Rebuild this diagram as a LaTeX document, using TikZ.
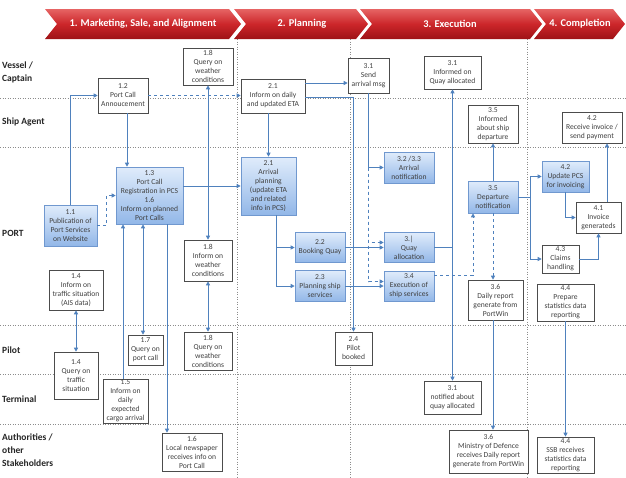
\documentclass[tikz,border=0pt]{standalone}
\usepackage{fontspec}
\setmainfont{Carlito}
\usepackage{xcolor}
\usepackage{tikz}
\usetikzlibrary{arrows.meta, positioning, calc}
\definecolor{hdred}{RGB}{204,38,42}
\definecolor{hdlight}{RGB}{230,100,100}
\definecolor{hddark}{RGB}{158,18,22}
\definecolor{flowblue}{RGB}{79,129,189}
\definecolor{boxtop}{RGB}{224,236,251}
\definecolor{boxbot}{RGB}{146,183,232}
\definecolor{boxline}{RGB}{112,152,207}
\definecolor{txtgray}{RGB}{64,64,64}

\tikzset{
    wbox/.style={draw=black!70, fill=white, line width=0.6pt, align=center,
        inner sep=0.5pt, text=txtgray, font=\fontsize{7.6}{9}\selectfont},
    bbox/.style={wbox, draw=boxline, top color=boxtop, bottom color=boxbot},
    flow/.style={draw=flowblue, line width=0.9pt, -{Triangle[width=4pt,length=4pt]}},
    flowboth/.style={flow, {Triangle[width=4pt,length=4pt]}-{Triangle[width=4pt,length=4pt]}},
    flowd/.style={flow, dashed},
    wire/.style={draw=flowblue, line width=0.9pt},
    lane/.style={draw=black!45, dotted, line width=0.5pt},
    lanelabel/.style={anchor=west, align=left, inner sep=1pt, text=black!85,
        font=\fontsize{9.5}{13}\selectfont\bfseries},
    phase/.style={top color=hdlight, bottom color=hddark, middle color=hdred},
    phaselabel/.style={text=white, font=\fontsize{10.4}{12}\selectfont\bfseries}
}

\begin{document}
\begin{tikzpicture}[x=1pt, y=-1pt]
\useasboundingbox[fill=white] (0,0) rectangle (626,477);

% lanes and phases
\foreach \y in {98,147,325,374,424}
    \draw[lane] (0,\y) -- (626,\y);
\foreach \x in {237,350,527}
    \draw[lane] (\x,39) -- (\x,477);

% phase headers
\path[phase] (45,9) -- (229,9) -- (241,24) -- (229,39) -- (45,39) -- (57,24) -- cycle;
\path[phase] (234,9) -- (356,9) -- (368,24) -- (356,39) -- (234,39) -- (246,24) -- cycle;
\path[phase] (360,9) -- (530,9) -- (542,24) -- (530,39) -- (360,39) -- (372,24) -- cycle;
\path[phase] (534,9) -- (613,9) -- (625,24) -- (613,39) -- (534,39) -- (546,24) -- cycle;
\node[phaselabel] (ph1) at (143,24) {1. Marketing, Sale, and Alignment};
\node[phaselabel] (ph2) at (302,24) {2. Planning};
\node[phaselabel] (ph3) at (450,24) {3. Execution};
\node[phaselabel] (ph4) at (580,24) {4. Completion};

% lane names
\node[lanelabel] (lvessel) at (1,72) {Vessel /\\Captain};
\node[lanelabel] (lagent) at (1,122) {Ship Agent};
\node[lanelabel] (lport) at (1,233) {PORT};
\node[lanelabel] (lpilot) at (1,350) {Pilot};
\node[lanelabel] (lterm) at (1,399) {Terminal};
\node[lanelabel] (lauth) at (1,450) {Authorities /\\other\\Stakeholders};

% 1. marketing, sale and alignment
\node[wbox, minimum width=50, minimum height=35] (n12) at (123,95.5) {1.2\\Port Call\\Annoucement};
\node[wbox, minimum width=50, minimum height=37] (n18a) at (208,66.5) {1.8\\Query on\\weather\\conditions};
\node[bbox, minimum width=53, minimum height=41] (n11) at (70.5,225.5) {1.1\\Publication of\\Port Services\\on Website};
\node[bbox, minimum width=67, minimum height=57] (n13) at (149.5,195.5)
    {1.3\\Port Call\\Registration in PCS\\1.6\\Inform on planned\\Port Calls};
\node[wbox, minimum width=48, minimum height=41] (n18b) at (208,260.5) {1.8\\Inform on\\weather\\conditions};
\node[wbox, minimum width=54, minimum height=40] (n14a) at (76,290) {1.4\\Inform on\\traffic situation\\(AIS data)};
\node[wbox, minimum width=35, minimum height=30] (n17) at (145.5,350) {1.7\\Query on\\port call};
\node[wbox, minimum width=48, minimum height=38] (n18c) at (208,351) {1.8\\Query on\\weather\\conditions};
\node[wbox, minimum width=44, minimum height=47] (n14b) at (76,375.5) {1.4\\Query on\\traffic\\situation};
\node[wbox, minimum width=45, minimum height=44] (n15) at (125.5,401) {1.5\\Inform on\\daily\\expected\\cargo arrival};
\node[wbox, minimum width=60, minimum height=38] (n16) at (192,452) {1.6\\Local newspaper\\receives info on\\Port Call};

% 2. planning
\node[wbox, minimum width=64, minimum height=34] (n21a) at (273,96) {2.1\\Inform on daily\\and updated ETA};
\node[bbox, minimum width=55, minimum height=58] (n21b) at (268.5,186)
    {2.1\\Arrival\\planning\\(update ETA\\and related\\info in PCS)};
\node[bbox, minimum width=50, minimum height=30] (n22) at (320,247.5) {2.2\\Booking Quay};
\node[bbox, minimum width=50, minimum height=31] (n23) at (320,286) {2.3\\Planning ship\\services};
\node[wbox, minimum width=37, minimum height=33] (n24) at (353.5,348.5) {2.4\\Pilot\\booked};

% 3. execution
\node[wbox, minimum width=41, minimum height=35] (n31a) at (368.5,75.5) {3.1\\Send\\arrival msg};
\node[wbox, minimum width=57, minimum height=33] (n31b) at (452.5,72.5) {3.1\\Informed on\\Quay allocated};
\node[wbox, minimum width=50, minimum height=38] (n35a) at (493,124) {3.5\\Informed\\about ship\\departure};
\node[bbox, minimum width=50, minimum height=31] (n323) at (409,167.5) {3.2 /3.3\\Arrival\\notification};
\node[bbox, minimum width=50, minimum height=30] (n3q) at (409,247.5) {3.|\\Quay\\allocation};
\node[bbox, minimum width=50, minimum height=30] (n34) at (409,286) {3.4\\Execution of\\ship services};
\node[bbox, minimum width=50, minimum height=32] (n35b) at (493,197) {3.5\\Departure\\notification};
\node[wbox, minimum width=55, minimum height=40] (n36a) at (495.5,300) {3.6\\Daily report\\generate from\\PortWin};
\node[wbox, minimum width=57, minimum height=33] (n31c) at (452.5,397.5) {3.1\\notified about\\quay allocated};
\node[wbox, minimum width=79, minimum height=43] (n36b) at (488.5,451.5)
    {3.6\\Ministry of Defence\\receives Daily report\\generate from PortWin};

% 4. completion
\node[wbox, minimum width=60, minimum height=31] (n42a) at (592,127.5) {4.2\\Receive invoice /\\send payment};
\node[bbox, minimum width=47, minimum height=31] (n42b) at (565.5,176.5) {4.2\\Update PCS\\for invoicing};
\node[wbox, minimum width=45, minimum height=31] (n41) at (598.5,217.5) {4.1\\Invoice\\generateds};
\node[wbox, minimum width=37, minimum height=28] (n43) at (560.5,259) {4.3\\Claims\\handling};
\node[wbox, minimum width=57, minimum height=37] (n44a) at (565.5,302.5) {4.4\\Prepare\\statistics data\\reporting};
\node[wbox, minimum width=57, minimum height=36] (n44b) at (565.5,455) {4.4\\SSB receives\\statistics data\\reporting};

% connectors, phase 1
\draw[flow] (n11.north) |- (n12.west);
\draw[flowd] (n11.east) -- ++(9,0) |- (n13.west);
\draw[flowd] (n12.east) -- (n12.east -| n21a.west);
\coordinate (c12) at ([xshift=4]n12.south);
\draw[flow] (c12) -- (c12 |- n13.north);
\draw[flow] (n21b.west -| n13.east) -- (n21b.west);
\draw[flowboth] (n18a.south) -- (n18b.north);
\draw[flowboth] (n18b.south) -- (n18c.north);
\draw[flowboth] (n14a.south) -- (n14a.south |- n14b.north);
\coordinate (c15) at ([xshift=-26.5]n13.south);
\coordinate (c17) at ([xshift=-6.5]n13.south);
\coordinate (c16) at ([xshift=17.5]n13.south);
\draw[flow] (c15 |- n15.north) -- (c15);
\draw[flowboth] (c17) -- (c17 |- n17.north);
\draw[flow] (c16) -- (c16 |- n16.north);

% connectors, phase 2
\draw[flow] (n21b.north |- n21a.south) -- (n21b.north);
\coordinate (c21) at ([yshift=13]n21a.east);
\draw[flow] (c21) -- (c21 -| n31a.west);
\draw[flow] ([yshift=-1]n21a.east) -| (n24.north);
\coordinate (c21b) at ([xshift=7.5]n21b.south);
\draw[flow] (c21b) |- (n22.west);
\draw[flow] (c21b) |- (n23.west);
\draw[flow] (n22.east) -- (n3q.west);
\draw[flow] (n23.east) -- (n34.west);

% connectors, phase 3
\draw[flow] (n31a.south) |- (n323.west);
\coordinate (c31) at (n31a.south |- n323.west);
\draw[flowd] (c31) |- ([yshift=5]n3q.west);
\draw[flowd] (c31) |- ([yshift=4.5]n34.west);
\coordinate (c3q) at (n3q.east -| n31b.south);
\draw[wire] (n3q.east) -- (c3q);
\draw[flow] (c3q) -- (n31b.south);
\draw[flow] (c3q) -- (n31c.north);
\coordinate (c35) at ([xshift=-20]n35b.south);
\draw[flowd] ([yshift=11]n34.east) -| (c35);
\draw[flow] (n35b.north) -- (n35a.south);
\draw[flowd] (n35b.south) -- (n35b.south |- n36a.north);
\draw[flow] (n35b.south |- n36a.south) -- (n35b.south |- n36b.north);

% connectors, phase 4
\coordinate (c35r) at ([xshift=12]n35b.east);
\draw[flow] (n35b.east) -- (c35r) |- (n42b.west);
\draw[flow] (c35r) |- (n43.west);
\draw[flow] (n42b.south) |- (n41.west);
\draw[flow] (n43.east) -| (n41.south);
\coordinate (c41) at ([xshift=8.5]n41.north);
\draw[flow] (c41) -- (c41 |- n42a.south);
\draw[flow] (n44a.south) -- (n44b.north);
\end{tikzpicture}
\end{document}
